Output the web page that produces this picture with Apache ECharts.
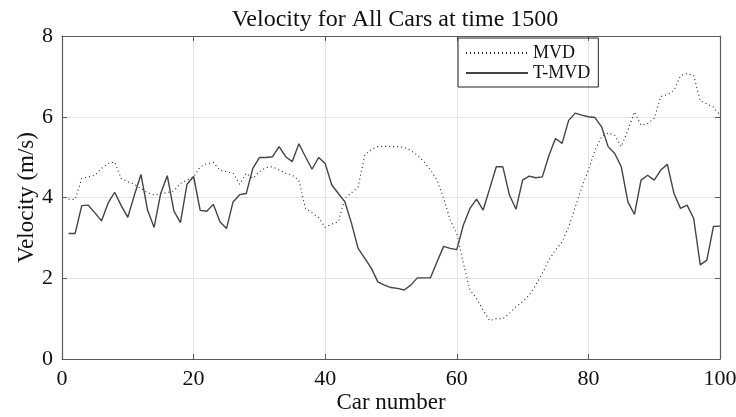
<!DOCTYPE html>
<html>
<head>
<meta charset="utf-8">
<script src="https://cdn.jsdelivr.net/npm/echarts@6/dist/echarts.min.js"></script>
<style>
  html, body { margin: 0; padding: 0; background: #fff; }
  #chart { width: 736px; height: 417px; }
</style>
</head>
<body>
<div id="chart"></div>
<script>
// car numbers 1..100
var cars = [];
for (var i = 1; i <= 100; i++) cars.push(i);

var mvd = [
  3.96, 3.95, 4.47, 4.51, 4.55, 4.72, 4.84, 4.88, 4.47, 4.39,
  4.33, 4.22, 4.12, 4.06, 4.10, 4.12, 4.16, 4.35, 4.43, 4.51,
  4.76, 4.84, 4.87, 4.68, 4.64, 4.60, 4.33, 4.60, 4.47, 4.64,
  4.74, 4.76, 4.68, 4.60, 4.55, 4.43, 3.73, 3.62, 3.50, 3.26,
  3.34, 3.40, 3.98, 4.12, 4.26, 5.04, 5.19, 5.26, 5.27, 5.26,
  5.26, 5.24, 5.16, 5.05, 4.89, 4.68, 4.43, 3.98, 3.44, 3.11,
  2.37, 1.71, 1.50, 1.21, 0.95, 1.00, 1.00, 1.13, 1.29, 1.42,
  1.58, 1.83, 2.12, 2.45, 2.70, 2.90, 3.27, 3.76, 4.26, 4.68,
  5.17, 5.50, 5.60, 5.54, 5.26, 5.67, 6.12, 5.79, 5.83, 5.96,
  6.50, 6.55, 6.65, 7.02, 7.07, 7.02, 6.40, 6.32, 6.24, 6.04
];

var tmvd = [
  3.11, 3.11, 3.80, 3.81, 3.62, 3.42, 3.86, 4.13, 3.80, 3.51,
  4.06, 4.57, 3.69, 3.26, 4.10, 4.54, 3.67, 3.38, 4.33, 4.52,
  3.68, 3.66, 3.83, 3.40, 3.23, 3.89, 4.07, 4.10, 4.72, 4.99,
  4.99, 5.01, 5.26, 5.01, 4.89, 5.33, 5.01, 4.70, 4.99, 4.84,
  4.31, 4.10, 3.89, 3.36, 2.74, 2.50, 2.25, 1.91, 1.83, 1.77,
  1.75, 1.71, 1.83, 2.01, 2.01, 2.01, 2.41, 2.79, 2.74, 2.71,
  3.32, 3.73, 3.96, 3.69, 4.22, 4.76, 4.76, 4.06, 3.71, 4.43,
  4.53, 4.49, 4.51, 5.04, 5.46, 5.34, 5.91, 6.09, 6.04, 6.00,
  5.98, 5.75, 5.26, 5.09, 4.76, 3.89, 3.58, 4.43, 4.55, 4.43,
  4.68, 4.82, 4.10, 3.73, 3.81, 3.48, 2.33, 2.45, 3.28, 3.29
];

function pairs(vals) {
  return cars.map(function (c, k) { return [c, vals[k]]; });
}

var serif = "'Liberation Serif', 'DejaVu Serif', serif";
var chart = echarts.init(document.getElementById("chart"));

var gridLine = { show: true, lineStyle: { color: "#e4e4e4", width: 1 } };
var boxLine = { show: true, onZero: false, lineStyle: { color: "#5a5a5a", width: 1.2 } };
var tick = { show: true, inside: true, length: 5, lineStyle: { color: "#5a5a5a" } };

var option = {
  animation: false,
  title: {
    text: "Velocity for All Cars at time 1500",
    left: 390,
    textAlign: "center",
    top: 3,
    textStyle: { fontFamily: serif, fontWeight: "normal", fontSize: 24, color: "#111" }
  },
  legend: {
    orient: "vertical",
    left: 458,
    top: 38,
    itemWidth: 62,
    itemHeight: 14,
    itemGap: 2,
    padding: [6, 8, 5, 7],
    borderColor: "#222",
    borderWidth: 1,
    borderRadius: 0,
    itemStyle: { color: "transparent", borderWidth: 0 },
    textStyle: { fontFamily: serif, fontSize: 18, color: "#111" },
    data: ["MVD", "T-MVD"]
  },
  grid: { left: 62, right: 16, top: 36, bottom: 58, outerBoundsMode: "none" },
  xAxis: [
    {
      type: "value", min: 0, max: 100, interval: 20,
      name: "Car number", nameLocation: "middle", nameGap: 32, nameMoveOverlap: false,
      nameTextStyle: { fontFamily: serif, fontSize: 23, color: "#111" },
      axisLine: boxLine,
      axisTick: tick,
      axisLabel: { fontFamily: serif, fontSize: 22, color: "#111", margin: 9 },
      splitLine: gridLine
    },
    {
      type: "value", min: 0, max: 100, interval: 20, position: "top",
      axisLine: boxLine,
      axisTick: tick,
      axisLabel: { show: false },
      splitLine: { show: false }
    }
  ],
  yAxis: [
    {
      type: "value", min: 0, max: 8, interval: 2,
      name: "Velocity (m/s)", nameLocation: "middle", nameGap: 24, nameMoveOverlap: false,
      nameTextStyle: { fontFamily: serif, fontSize: 23, color: "#111" },
      axisLine: boxLine,
      axisTick: tick,
      axisLabel: { fontFamily: serif, fontSize: 22, color: "#111", margin: 9 },
      splitLine: gridLine
    },
    {
      type: "value", min: 0, max: 8, interval: 2, position: "right",
      axisLine: boxLine,
      axisTick: tick,
      axisLabel: { show: false },
      splitLine: { show: false }
    }
  ],
  series: [
    {
      name: "MVD",
      type: "line",
      data: pairs(mvd),
      symbol: "none",
      itemStyle: { color: "#222" },
      lineStyle: { color: "#222", width: 1.1, type: [1, 3] }
    },
    {
      name: "T-MVD",
      type: "line",
      data: pairs(tmvd),
      symbol: "none",
      itemStyle: { color: "#444" },
      lineStyle: { color: "#444", width: 1.4 }
    }
  ]
};

chart.setOption(option);
</script>
</body>
</html>
